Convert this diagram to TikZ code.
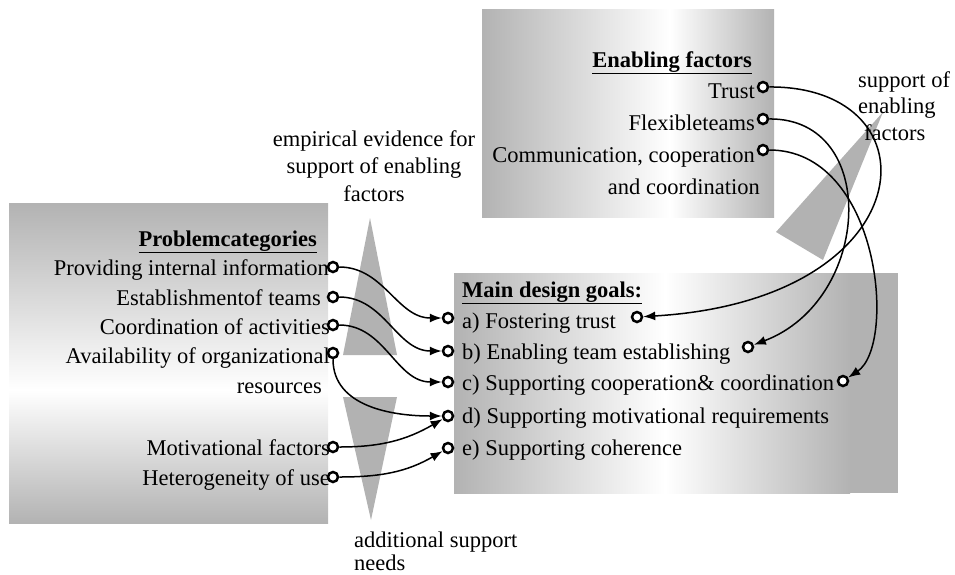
\documentclass[tikz,border=0pt]{standalone}
\usepackage{fontspec}
\setmainfont{Liberation Serif}
\usetikzlibrary{arrows.meta}
\definecolor{boxgray}{gray}{0.7}

\begin{document}
\begin{tikzpicture}[x=1pt, y=1pt, >={Latex[length=12pt, width=9pt]},
    txt/.style={inner sep=0pt, font=\fontsize{22.5}{27.5}\selectfont},
    pin/.style={circle, draw, line width=2.5pt, fill=white, inner sep=0pt, minimum size=10pt},
    link/.style={line width=1.5pt}]
    \useasboundingbox (0, 0) rectangle (955, -574);

    \shade[left color=boxgray, right color=white] (482, -9) rectangle (670, -217);
    \shade[left color=white, right color=boxgray] (670, -9) rectangle (774, -217);
    \shade[top color=boxgray, bottom color=white] (9, -203) rectangle (328, -390);
    \shade[top color=white, bottom color=boxgray] (9, -390) rectangle (328, -523);
    \shade[left color=boxgray, right color=white] (454, -273) rectangle (665, -493);
    \shade[left color=white, right color=boxgray] (665, -273) rectangle (850, -493);
    \fill[boxgray] (850, -273) rectangle (898, -493);

    \fill[boxgray] (370, -218) -- (397, -355) -- (343, -355) -- cycle;
    \fill[boxgray] (343, -397) -- (397, -397) -- (371, -520) -- cycle;
    \fill[boxgray] (883, -112) -- (823, -260) -- (776, -232) -- cycle;

    \node[txt, anchor=base east] (ehead) at (752, -67) {\underline{\textbf{Enabling factors}}};
    \node[txt, anchor=base east] (e1) at (755, -98) {Trust};
    \node[txt, anchor=base east] (e2) at (755, -130) {Flexibleteams};
    \node[txt, anchor=base east] (e3) at (755, -162) {Communication, cooperation};
    \node[txt, anchor=base east] (e3b) at (760, -194) {and coordination};

    \node[txt, anchor=base east] (phead) at (317, -246) {\underline{\textbf{Problemcategories}}};
    \node[txt, anchor=base east] (p1) at (329, -275) {Providing internal information};
    \node[txt, anchor=base east] (p2) at (321, -305) {Establishmentof teams};
    \node[txt, anchor=base east] (p3) at (330, -334) {Coordination of activities};
    \node[txt, anchor=base east] (p4) at (330, -363) {Availability of organizational};
    \node[txt, anchor=base east] (p4b) at (322, -393) {resources};
    \node[txt, anchor=base east] (p5) at (330, -455) {Motivational factors};
    \node[txt, anchor=base east] (p6) at (330, -485) {Heterogeneity of use};

    \node[txt, anchor=base west] (ghead) at (462, -297) {\underline{\textbf{Main design goals:}}};
    \node[txt, anchor=base west] (g1) at (462, -328) {a) Fostering trust};
    \node[txt, anchor=base west] (g2) at (462, -359) {b) Enabling team establishing};
    \node[txt, anchor=base west] (g3) at (462, -390) {c) Supporting cooperation\& coordination};
    \node[txt, anchor=base west] (g4) at (462, -423) {d) Supporting motivational requirements};
    \node[txt, anchor=base west] (g5) at (462, -455) {e) Supporting coherence};

    \node[txt, align=center, anchor=base] (evid) at (374, -201) {empirical evidence for\\support of enabling\\factors};
    \node[txt, align=left, anchor=base west, font=\fontsize{22.5}{26.5}\selectfont] (supp) at (858, -140) {support of\\enabling\\\hspace{6pt}factors};
    \node[txt, align=left, anchor=base west, font=\fontsize{22.5}{23}\selectfont] (need) at (354, -570) {additional support\\needs};

    \node[pin] (e1o) at (763, -87) {};
    \node[pin] (e2o) at (763, -119) {};
    \node[pin] (e3o) at (763, -150) {};

    \node[pin] (p1o) at (333, -267) {};
    \node[pin] (p2o) at (333, -297) {};
    \node[pin] (p3o) at (333, -325) {};
    \node[pin] (p4o) at (333, -353) {};
    \node[pin] (p5o) at (333, -447) {};
    \node[pin] (p6o) at (333, -477) {};

    \node[pin] (g1o) at (448, -318) {};
    \node[pin] (g2o) at (448, -351) {};
    \node[pin] (g3o) at (448, -382) {};
    \node[pin] (g4o) at (448, -416) {};
    \node[pin] (g5o) at (448, -448) {};

    \node[pin] (g1r) at (637, -317) {};
    \node[pin] (g2r) at (748, -347) {};
    \node[pin] (g3r) at (843, -381) {};

    \draw[link, ->] (p1o) to[out=0, in=180] (g1o);
    \draw[link, ->] (p2o) to[out=0, in=180] (g2o);
    \draw[link, ->] (p3o) to[out=0, in=180] (g3o);
    \draw[link, ->] (p4o) to[out=-90, in=180] (g4o);
    \draw[link, ->] (p5o) to[out=0, in=210] (g4o);
    \draw[link, ->] (p6o) to[out=0, in=210] (g5o);

    \draw[link, ->] (e1o) .. controls (940, -86) and (925, -300) .. (g1r);
    \draw[link, ->] (e2o) .. controls (880, -118) and (872, -300) .. (g2r);
    \draw[link, ->] (e3o) .. controls (880, -150) and (897, -345) .. (g3r);
  \end{tikzpicture}
\end{document}
